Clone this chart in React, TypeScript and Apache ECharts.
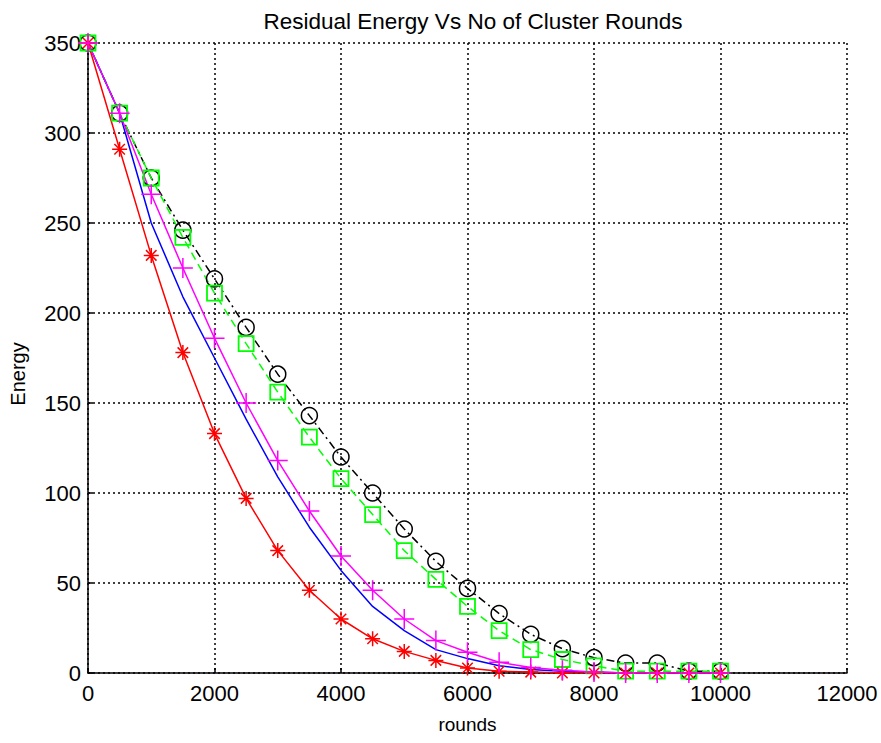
import React, { useEffect, useRef } from "react";
import * as echarts from "echarts";

const rounds = [0, 500, 1000, 1500, 2000, 2500, 3000, 3500, 4000, 4500, 5000, 5500, 6000, 6500, 7000, 7500, 8000, 8500, 9000, 9500, 10000];
const blackCircle = [350, 311, 275, 246, 219, 192, 166, 143, 120, 100, 80, 62, 47, 33, 21.5, 13.5, 8.5, 5.5, 5.5, 1, 1];
const greenSquare = [350, 311, 275, 242, 211, 183, 156, 131, 108, 88, 68, 52, 37, 23.5, 13, 7.5, 4, 1, 1, 1, 1];
const blueLine = [350, 311, 250, 209, 175, 141, 109, 81, 57, 37, 23.5, 13, 8, 4, 2, 1, 0.5, 0, 0, 0, 0];
const magentaPlus = [350, 311, 266, 225, 186, 150, 118, 90, 65, 46, 30, 18, 11.5, 6, 3, 1.5, 0.5, 0, 0, 0, 0];
const redStar = [350, 291, 232, 178, 133, 97, 68, 46, 30, 19, 12, 7, 2.8, 1, 0.5, 0, 0, 0, 0, 0, 0];

const xTicks = [0, 2000, 4000, 6000, 8000, 10000, 12000];
const yTicks = [0, 50, 100, 150, 200, 250, 300, 350];

const FONT = "Liberation Sans, Arial, sans-serif";

const pair = (ys: number[]) => rounds.map((x, i) => [x, ys[i]]);

export default function App() {
  const ref = useRef<HTMLDivElement>(null);
  useEffect(() => {
    document.body.style.margin = "0";
    const chart = echarts.init(ref.current!, undefined, { renderer: "svg" });
    const plus = "path://M0,-10L0,10M-10,0L10,0";
    const star = "path://M0,-10L0,10M-10,0L10,0M-7,-7L7,7M-7,7L7,-7";
    chart.setOption({
      animation: false,
      backgroundColor: "#fff",
      title: {
        text: "Residual Energy Vs No of Cluster Rounds",
        left: 468,
        textAlign: "center",
        top: 5,
        textStyle: { fontFamily: FONT, fontSize: 22.5, fontWeight: "normal", color: "#000" },
      },
      graphic: [
        {
          type: "text",
          x: 18,
          y: 374,
          rotation: Math.PI / 2,
          style: {
            text: "Energy",
            fontFamily: FONT,
            fontSize: 20,
            fill: "#000",
            align: "center",
            verticalAlign: "middle",
          },
        },
      ],
      grid: { left: 88, right: 34, top: 43, bottom: 70 },
      xAxis: {
        type: "value",
        min: xTicks[0],
        max: xTicks[xTicks.length - 1],
        interval: 2000,
        name: "rounds",
        nameLocation: "middle",
        nameGap: 42,
        nameTextStyle: { fontFamily: FONT, fontSize: 19, color: "#000" },
        axisLine: { show: true, lineStyle: { color: "#000", width: 1.5 } },
        axisTick: { show: true, inside: true, length: 5, lineStyle: { color: "#000", width: 1.5 } },
        axisLabel: { fontFamily: FONT, fontSize: 22, color: "#000", margin: 9, formatter: (v: number) => String(v) },
        splitLine: { show: true, lineStyle: { color: "#000", type: [2, 3], width: 1.5 } },
      },
      yAxis: {
        type: "value",
        min: yTicks[0],
        max: yTicks[yTicks.length - 1],
        interval: 50,
        axisLine: { show: true, lineStyle: { color: "#000", width: 1.5 } },
        axisTick: { show: true, inside: true, length: 5, lineStyle: { color: "#000", width: 1.5 } },
        axisLabel: { fontFamily: FONT, fontSize: 22, color: "#000", margin: 7, formatter: (v: number) => String(v) },
        splitLine: { show: true, lineStyle: { color: "#000", type: [2, 3], width: 1.5 } },
      },
      series: [
        {
          type: "line",
          data: pair(blackCircle),
          symbol: "circle",
          symbolSize: 16,
          lineStyle: { color: "#000", width: 1.5, type: [8, 4, 2, 4] },
          itemStyle: { color: "none", borderColor: "#000", borderWidth: 1.5 },
        },
        {
          type: "line",
          data: pair(greenSquare),
          symbol: "rect",
          symbolSize: 15,
          lineStyle: { color: "#00ff00", width: 1.5, type: [8, 5] },
          itemStyle: { color: "none", borderColor: "#00ff00", borderWidth: 1.8 },
        },
        {
          type: "line",
          data: pair(blueLine),
          symbol: "none",
          lineStyle: { color: "#0000ff", width: 1.5, type: "solid" },
        },
        {
          type: "line",
          data: pair(redStar),
          symbol: star,
          symbolSize: 15,
          lineStyle: { color: "#ff0000", width: 1.5, type: "solid" },
          itemStyle: { color: "none", borderColor: "#ff0000", borderWidth: 1.5 },
        },
        {
          type: "line",
          data: pair(magentaPlus),
          symbol: plus,
          symbolSize: 20,
          lineStyle: { color: "#ff00ff", width: 1.5, type: "solid" },
          itemStyle: { color: "none", borderColor: "#ff00ff", borderWidth: 1.5 },
        },
      ],
    });
    return () => chart.dispose();
  }, []);
  return <div ref={ref} style={{ width: 881, height: 743 }} />;
}
